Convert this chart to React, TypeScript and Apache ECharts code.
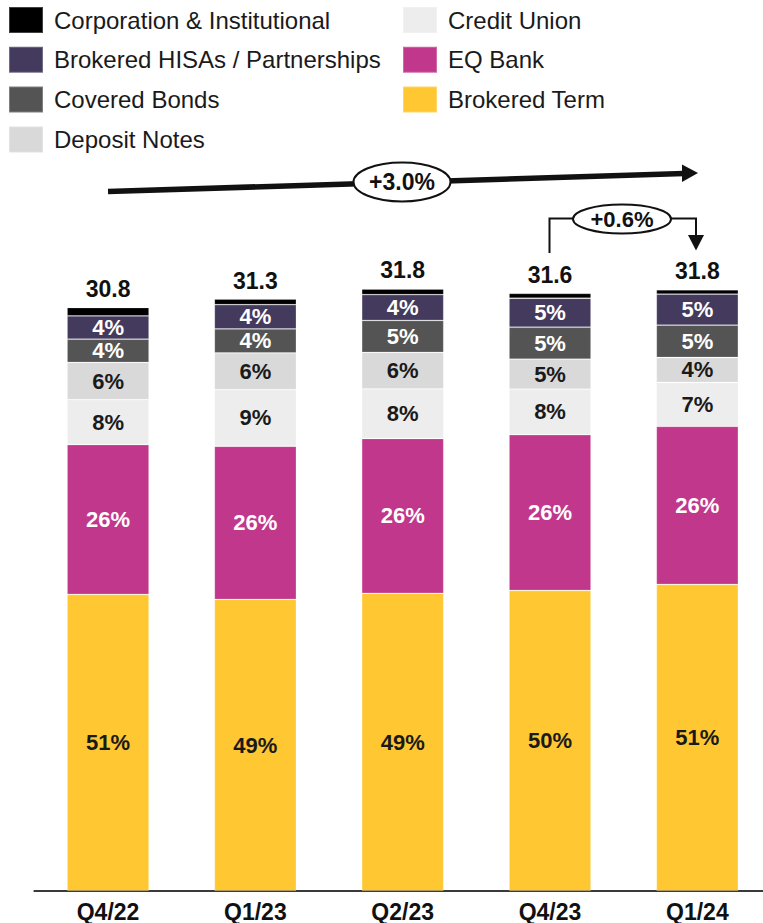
import React, { useEffect, useRef } from "react";
import * as echarts from "echarts";

const categories = ["Q4/22", "Q1/23", "Q2/23", "Q4/23", "Q1/24"];
const totals = ["30.8", "31.3", "31.8", "31.6", "31.8"];

// values in $B (bottom to top)
const brokeredTerm = [15.67, 15.41, 15.73, 15.88, 16.2];
const eqBank = [7.92, 8.09, 8.18, 8.23, 8.35];
const creditUnion = [2.37, 2.99, 2.62, 2.41, 2.32];
const depositNotes = [1.97, 1.94, 1.93, 1.58, 1.32];
const coveredBonds = [1.23, 1.27, 1.69, 1.69, 1.71];
const brokeredHisas = [1.23, 1.28, 1.36, 1.53, 1.64];
const corporation = [0.44, 0.3, 0.3, 0.26, 0.23];

const brokeredTermPct = ["51%", "49%", "49%", "50%", "51%"];
const eqBankPct = ["26%", "26%", "26%", "26%", "26%"];
const creditUnionPct = ["8%", "9%", "8%", "8%", "7%"];
const depositNotesPct = ["6%", "6%", "6%", "5%", "4%"];
const coveredBondsPct = ["4%", "4%", "5%", "5%", "5%"];
const brokeredHisasPct = ["4%", "4%", "4%", "5%", "5%"];

const FONT = "'Liberation Sans', Arial, Helvetica, sans-serif";

export default function App() {
  const ref = useRef<HTMLDivElement>(null);
  useEffect(() => {
    if (!ref.current) return;
    const chart = echarts.init(ref.current, null, { renderer: "svg" });
    const seg = (
      name: string,
      data: number[],
      color: string,
      labels: string[] | null,
      labelColor: string
    ) => ({
      name,
      type: "bar",
      stack: "total",
      barWidth: 82,
      data,
      itemStyle: { color, borderColor: "rgba(255,255,255,0.25)", borderWidth: 0.8 },
      label: labels
        ? {
            show: true,
            position: "inside",
            formatter: (p: any) => labels[p.dataIndex],
            color: labelColor,
            fontFamily: FONT,
            fontWeight: "bold",
            fontSize: 22,
          }
        : { show: false },
    });
    const legendText = {
      fontFamily: FONT,
      fontSize: 24,
      color: "#1a1a1a",
      lineHeight: 26,
      padding: [0, 0, 0, 6],
    };
    chart.setOption({
      animation: false,
      textStyle: { fontFamily: FONT },
      legend: [
        {
          left: 8,
          top: 6,
          padding: 0,
          orient: "vertical",
          itemWidth: 34,
          itemHeight: 26,
          itemGap: 11.8,
          icon: "rect",
          selectedMode: false,
          textStyle: legendText,
          data: [
            "Corporation & Institutional",
            "Brokered HISAs / Partnerships",
            "Covered Bonds",
            "Deposit Notes",
          ],
        },
        {
          left: 402,
          top: 6,
          padding: 0,
          orient: "vertical",
          itemWidth: 34,
          itemHeight: 26,
          itemGap: 11.8,
          icon: "rect",
          selectedMode: false,
          textStyle: legendText,
          data: ["Credit Union", "EQ Bank", "Brokered Term"],
        },
      ],
      grid: { left: 34.4, right: 0, top: 134, bottom: 31, containLabel: false },
      xAxis: {
        type: "category",
        data: categories,
        axisTick: { show: false },
        axisLine: { lineStyle: { color: "#3a3a3a", width: 2 } },
        axisLabel: {
          fontFamily: FONT,
          fontWeight: "bold",
          fontSize: 23,
          color: "#111",
          margin: 9,
        },
      },
      yAxis: { type: "value", min: 0, max: 40, show: false, splitLine: { show: false } },
      series: [
        seg("Brokered Term", brokeredTerm, "#FFC832", brokeredTermPct, "#1a1a1a"),
        seg("EQ Bank", eqBank, "#C1378C", eqBankPct, "#ffffff"),
        seg("Credit Union", creditUnion, "#EDEDED", creditUnionPct, "#1a1a1a"),
        seg("Deposit Notes", depositNotes, "#D9D9D9", depositNotesPct, "#1a1a1a"),
        seg("Covered Bonds", coveredBonds, "#545454", coveredBondsPct, "#ffffff"),
        seg("Brokered HISAs / Partnerships", brokeredHisas, "#433A5E", brokeredHisasPct, "#ffffff"),
        {
          name: "Corporation & Institutional",
          type: "bar",
          stack: "total",
          barWidth: 82,
          data: corporation,
          itemStyle: { color: "#000000", borderColor: "rgba(255,255,255,0.25)", borderWidth: 0.8 },
          label: {
            show: true,
            position: "top",
            distance: 7,
            formatter: (p: any) => totals[p.dataIndex],
            color: "#111",
            fontFamily: FONT,
            fontWeight: "bold",
            fontSize: 23,
          },
        },
      ],
      graphic: [
        {
          type: "line",
          shape: { x1: 108, y1: 191.5, x2: 684, y2: 173.5 },
          style: { stroke: "#111", lineWidth: 5.5 },
        },
        {
          type: "polygon",
          shape: { points: [[698, 173], [682, 164.5], [682, 182]] },
          style: { fill: "#111" },
        },
        {
          type: "ellipse",
          shape: { cx: 402, cy: 182, rx: 48.5, ry: 19.5 },
          style: { fill: "#fff", stroke: "#111", lineWidth: 2 },
        },
        {
          type: "text",
          x: 402,
          y: 182,
          style: {
            text: "+3.0%",
            font: `bold 23px ${FONT}`,
            fill: "#111",
            align: "center",
            verticalAlign: "middle",
          },
        },
        {
          type: "polyline",
          shape: { points: [[549.5, 253], [549.5, 218.5], [580, 218.5]] },
          style: { stroke: "#111", lineWidth: 2, fill: null },
        },
        {
          type: "polyline",
          shape: { points: [[665, 218.5], [696, 218.5], [696, 237]] },
          style: { stroke: "#111", lineWidth: 2, fill: null },
        },
        {
          type: "polygon",
          shape: { points: [[696, 250.5], [688, 235], [704, 235]] },
          style: { fill: "#111" },
        },
        {
          type: "ellipse",
          shape: { cx: 622, cy: 219, rx: 49, ry: 14.5 },
          style: { fill: "#fff", stroke: "#111", lineWidth: 2 },
        },
        {
          type: "text",
          x: 622,
          y: 219.5,
          style: {
            text: "+0.6%",
            font: `bold 22px ${FONT}`,
            fill: "#111",
            align: "center",
            verticalAlign: "middle",
          },
        },
      ],
    });
    return () => chart.dispose();
  }, []);
  return (
    <div
      style={{
        position: "absolute",
        left: 0,
        top: 0,
        width: 763,
        height: 923,
        overflow: "hidden",
      }}
    >
      <div ref={ref} style={{ width: 771, height: 923 }} />
    </div>
  );
}
